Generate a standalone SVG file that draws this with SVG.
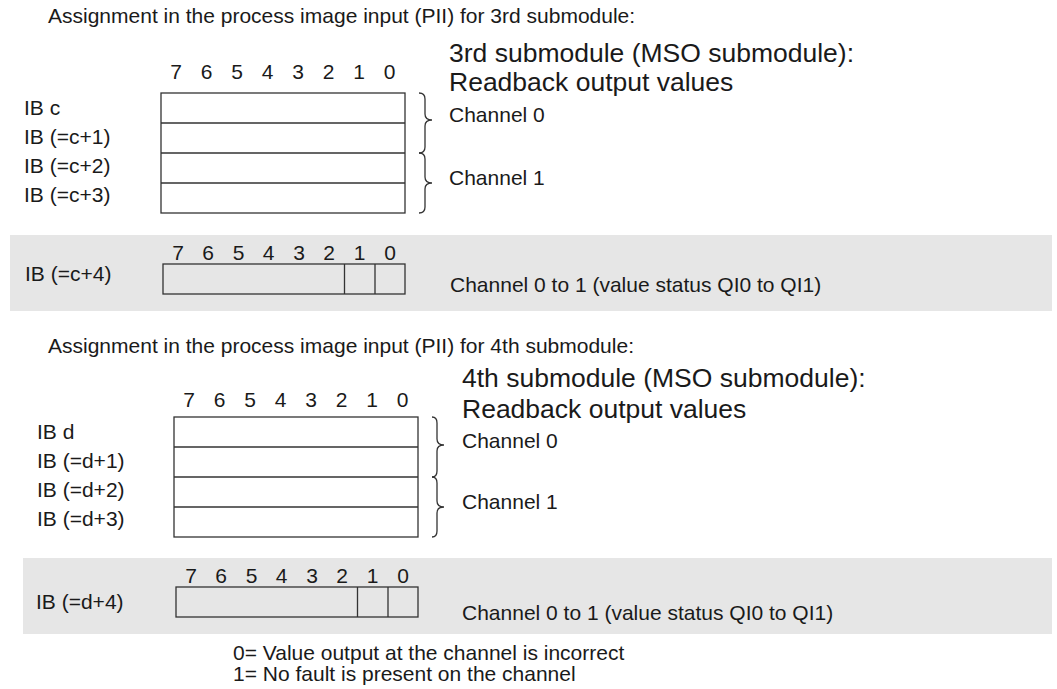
<svg xmlns="http://www.w3.org/2000/svg" width="1057" height="689" viewBox="0 0 1057 689">
<style>
text{font-family:"Liberation Sans",Arial,sans-serif;fill:#1a1a1a}
.t{font-size:21px}
.h{font-size:26.5px}
.d{font-size:21px;text-anchor:middle}
.box{fill:#fff;stroke:#333;stroke-width:1.3}
.boxg{fill:#e6e6e6;stroke:#333;stroke-width:1.3}
.ln{stroke:#333;stroke-width:1.3;fill:none}
.band{fill:#e6e6e6}
</style>
<rect width="1057" height="689" fill="#fff"/>

<g id="band1"><rect class="band" x="10" y="235" width="1042" height="76"/></g>
<g id="band2"><rect class="band" x="23" y="558" width="1029" height="76"/></g>

<g id="title1"><text class="t" x="48" y="23">Assignment in the process image input (PII) for 3rd submodule:</text></g>
<g id="header1">
<text class="h" x="449" y="62">3rd submodule (MSO submodule):</text>
<text class="h" x="449" y="91">Readback output values</text>
</g>

<g id="register1">
<text class="d" x="176" y="79">7</text><text class="d" x="206.5" y="79">6</text><text class="d" x="237" y="79">5</text><text class="d" x="267.5" y="79">4</text><text class="d" x="298" y="79">3</text><text class="d" x="328.5" y="79">2</text><text class="d" x="359" y="79">1</text><text class="d" x="389.5" y="79">0</text>
<rect class="box" x="161" y="93" width="244" height="120"/>
<path class="ln" d="M161 123H405M161 153H405M161 183H405"/>
<text class="t" x="24" y="115">IB c</text>
<text class="t" x="24" y="144">IB (=c+1)</text>
<text class="t" x="24" y="173">IB (=c+2)</text>
<text class="t" x="24" y="202">IB (=c+3)</text>
</g>

<g id="channels1">
<text class="t" x="449" y="122">Channel 0</text>
<text class="t" x="449" y="185">Channel 1</text>
</g>

<g id="status1">
<text class="d" x="178" y="260">7</text><text class="d" x="208" y="260">6</text><text class="d" x="238.5" y="260">5</text><text class="d" x="268.5" y="260">4</text><text class="d" x="299" y="260">3</text><text class="d" x="329" y="260">2</text><text class="d" x="359.5" y="260">1</text><text class="d" x="390" y="260">0</text>
<rect class="boxg" x="163" y="264" width="242" height="30"/>
<path class="ln" d="M344.5 264V294M375 264V294"/>
<text class="t" x="25" y="281">IB (=c+4)</text>
<text class="t" x="450" y="292">Channel 0 to 1 (value status QI0 to QI1)</text>
</g>

<g id="title2"><text class="t" x="48" y="353">Assignment in the process image input (PII) for 4th submodule:</text></g>
<g id="header2">
<text class="h" x="462" y="387">4th submodule (MSO submodule):</text>
<text class="h" x="462" y="418">Readback output values</text>
</g>

<g id="register2">
<text class="d" x="189" y="407">7</text><text class="d" x="219.5" y="407">6</text><text class="d" x="250" y="407">5</text><text class="d" x="280.5" y="407">4</text><text class="d" x="311" y="407">3</text><text class="d" x="341.5" y="407">2</text><text class="d" x="372" y="407">1</text><text class="d" x="402.5" y="407">0</text>
<rect class="box" x="174" y="417" width="244" height="120"/>
<path class="ln" d="M174 447H418M174 477H418M174 507H418"/>
<text class="t" x="37" y="439">IB d</text>
<text class="t" x="37" y="468">IB (=d+1)</text>
<text class="t" x="37" y="497">IB (=d+2)</text>
<text class="t" x="37" y="526">IB (=d+3)</text>
</g>

<g id="channels2">
<text class="t" x="462" y="448">Channel 0</text>
<text class="t" x="462" y="509">Channel 1</text>
</g>

<g id="status2">
<text class="d" x="191" y="583">7</text><text class="d" x="221" y="583">6</text><text class="d" x="251.5" y="583">5</text><text class="d" x="281.5" y="583">4</text><text class="d" x="312" y="583">3</text><text class="d" x="342" y="583">2</text><text class="d" x="372.5" y="583">1</text><text class="d" x="403" y="583">0</text>
<rect class="boxg" x="176" y="587" width="242" height="30"/>
<path class="ln" d="M357.5 587V617M388 587V617"/>
<text class="t" x="36" y="609">IB (=d+4)</text>
<text class="t" x="462" y="620">Channel 0 to 1 (value status QI0 to QI1)</text>
</g>

<g id="legend">
<text class="t" x="233" y="660">0= Value output at the channel is incorrect</text>
<text class="t" x="233" y="681">1= No fault is present on the channel</text>
</g>

<g id="connectors">
<path class="ln" d="M419 93Q425 93 425 99L425 114Q425 120 432 120Q425 120 425 126L425 147Q425 153 419 153"/>
<path class="ln" d="M419 153Q425 153 425 159L425 177Q425 183 432 183Q425 183 425 189L425 207Q425 213 419 213"/>
<path class="ln" d="M432 417Q437 417 437 423L437 439Q437 445 444 445Q437 445 437 451L437 471Q437 477 432 477"/>
<path class="ln" d="M432 477Q437 477 437 483L437 501Q437 507 444 507Q437 507 437 513L437 531Q437 537 432 537"/>
</g>
</svg>
